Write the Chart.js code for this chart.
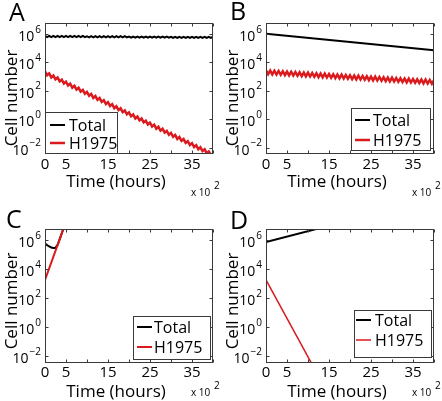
<!DOCTYPE html>
<html>
<head>
<meta charset="utf-8">
<script src="https://cdn.jsdelivr.net/npm/chart.js@4.4.0/dist/chart.umd.min.js"></script>
<style>
    html, body { margin: 0; padding: 0; background: #fff; }
    #wrap { position: relative; width: 442px; height: 401px; }
    canvas { position: absolute; }
</style>
</head>
<body>
<div id="wrap">
    <canvas id="chartA" width="221" height="200" style="left:0;top:0"></canvas>
    <canvas id="chartB" width="221" height="200" style="left:221px;top:0"></canvas>
    <canvas id="chartC" width="221" height="201" style="left:0;top:200px"></canvas>
    <canvas id="chartD" width="221" height="201" style="left:221px;top:200px"></canvas>
</div>
<script>
// time in units of 10^2 hours
const timeGrid = [
    0, 0.5, 1, 1.5, 2, 2.5, 3, 3.5, 4, 4.5,
    5, 5.5, 6, 6.5, 7, 7.5, 8, 8.5, 9, 9.5,
    10, 10.5, 11, 11.5, 12, 12.5, 13, 13.5, 14, 14.5,
    15, 15.5, 16, 16.5, 17, 17.5, 18, 18.5, 19, 19.5,
    20, 20.5, 21, 21.5, 22, 22.5, 23, 23.5, 24, 24.5,
    25, 25.5, 26, 26.5, 27, 27.5, 28, 28.5, 29, 29.5,
    30, 30.5, 31, 31.5, 32, 32.5, 33, 33.5, 34, 34.5,
    35, 35.5, 36, 36.5, 37, 37.5, 38, 38.5, 39, 39.5,
    40
];

// cell numbers, stored as log10 values
const aTotal = [
    5.84, 5.76, 5.84, 5.76, 5.84, 5.76, 5.84, 5.76, 5.84, 5.76,
    5.84, 5.76, 5.84, 5.76, 5.84, 5.76, 5.84, 5.76, 5.84, 5.76,
    5.82, 5.74, 5.82, 5.74, 5.82, 5.74, 5.82, 5.74, 5.82, 5.74,
    5.82, 5.74, 5.82, 5.74, 5.82, 5.74, 5.82, 5.74, 5.82, 5.74,
    5.80, 5.72, 5.80, 5.72, 5.80, 5.72, 5.80, 5.72, 5.80, 5.72,
    5.80, 5.72, 5.80, 5.72, 5.80, 5.72, 5.80, 5.72, 5.80, 5.72,
    5.78, 5.70, 5.78, 5.70, 5.78, 5.70, 5.78, 5.70, 5.78, 5.70,
    5.78, 5.70, 5.78, 5.70, 5.78, 5.70, 5.78, 5.70, 5.78, 5.70,
    5.78
];
const aH1975 = [
    3.35, 3.08, 3.21, 2.93, 3.06, 2.79, 2.92, 2.65, 2.77, 2.50,
    2.63, 2.36, 2.49, 2.21, 2.34, 2.07, 2.20, 1.93, 2.05, 1.78,
    1.91, 1.64, 1.77, 1.49, 1.62, 1.35, 1.48, 1.21, 1.33, 1.06,
    1.19, 0.92, 1.05, 0.77, 0.90, 0.63, 0.76, 0.49, 0.61, 0.34,
    0.47, 0.20, 0.33, 0.05, 0.18, -0.09, 0.04, -0.23, -0.11, -0.38,
    -0.25, -0.52, -0.39, -0.67, -0.54, -0.81, -0.68, -0.95, -0.83, -1.10,
    -0.97, -1.24, -1.11, -1.39, -1.26, -1.53, -1.40, -1.67, -1.55, -1.82,
    -1.69, -1.96, -1.83, -2.11, -1.98, -2.25, -2.12, -2.39, -2.27, -2.54,
    -2.41
];
const bTotalTime = [0, 40];
const bTotal = [6.0, 4.83];
const bH1975 = [
    3.43, 3.16, 3.41, 3.14, 3.40, 3.13, 3.38, 3.11, 3.36, 3.09,
    3.34, 3.07, 3.33, 3.06, 3.31, 3.04, 3.29, 3.02, 3.27, 3.00,
    3.26, 2.99, 3.24, 2.97, 3.22, 2.95, 3.20, 2.93, 3.19, 2.92,
    3.17, 2.90, 3.15, 2.88, 3.13, 2.86, 3.12, 2.85, 3.10, 2.83,
    3.08, 2.81, 3.06, 2.79, 3.05, 2.78, 3.03, 2.76, 3.01, 2.74,
    2.99, 2.72, 2.98, 2.71, 2.96, 2.69, 2.94, 2.67, 2.92, 2.65,
    2.91, 2.64, 2.89, 2.62, 2.87, 2.60, 2.85, 2.58, 2.84, 2.57,
    2.82, 2.55, 2.80, 2.53, 2.78, 2.51, 2.77, 2.50, 2.75, 2.48,
    2.73
];
const cTotalTime = [0, 0.5, 1, 1.5, 2, 2.5, 3, 3.5, 4, 5];
const cTotal = [5.75, 5.64, 5.55, 5.48, 5.44, 5.45, 5.66, 6.06, 6.46, 7.26];
const cH1975Time = [0, 5];
const cH1975 = [3.25, 7.25];
const dTotalTime = [0, 40];
const dTotal = [5.85, 8.85];
const dH1975Time = [0, 15];
const dH1975 = [3.25, -4.67];

const xTicks = [0, 5, 10, 15, 20, 25, 30, 35, 40];
const xTickLabels = ['0', '5', '', '15', '', '25', '', '35', ''];
const yTickExps = [-2, 0, 2, 4, 6];
const yMinExp = -2.45;
const yMaxExp = 6.75;

const BLACK = '#000000';
const RED = '#da1a1c';
const FONT = '"Open Sans", "DejaVu Sans", sans-serif';

function toPoints(times, logs) {
    return times.map((t, i) => ({ x: t, y: Math.pow(10, logs[i]) }));
}

// MATLAB style box, inward ticks, labels and legend
const matlabAxes = {
    id: 'matlabAxes',
    afterDraw(chart, args, opts) {
        const ctx = chart.ctx;
        const a = chart.chartArea;
        const xs = chart.scales.x;
        const ys = chart.scales.y;
        const L = Math.round(a.left) + 0.5, R = Math.round(a.right) - 0.5;
        const T = Math.round(a.top) + 0.5, B = Math.round(a.bottom) - 0.5;
        ctx.save();

        ctx.strokeStyle = '#3a3a3a';
        ctx.lineWidth = 1;
        ctx.strokeRect(L, T, R - L, B - T);
        ctx.beginPath();
        xTicks.forEach(v => {
            const px = Math.round(xs.getPixelForValue(v)) + 0.5;
            ctx.moveTo(px, B); ctx.lineTo(px, B - 3);
            ctx.moveTo(px, T); ctx.lineTo(px, T + 3);
        });
        yTickExps.forEach(e => {
            const py = Math.round(ys.getPixelForValue(Math.pow(10, e))) + 0.5;
            ctx.moveTo(L, py); ctx.lineTo(L + 3, py);
            ctx.moveTo(R, py); ctx.lineTo(R - 3, py);
        });
        ctx.stroke();

        ctx.fillStyle = '#000';
        // x tick labels
        ctx.font = '15px ' + FONT;
        ctx.textAlign = 'center';
        ctx.textBaseline = 'middle';
        xTicks.forEach((v, i) => {
            if (xTickLabels[i]) ctx.fillText(xTickLabels[i], xs.getPixelForValue(v), opts.xLabelY);
        });

        // y tick labels 10^n
        yTickExps.forEach(e => {
            const py = ys.getPixelForValue(Math.pow(10, e));
            const exp = e < 0 ? '\u2212' + (-e) : String(e);
            ctx.font = '10px ' + FONT;
            ctx.textAlign = 'right';
            const expRight = a.left - 4;
            const expW = ctx.measureText(exp).width;
            ctx.fillText(exp, expRight, py - 4);
            ctx.font = '14px ' + FONT;
            ctx.fillText('10', expRight - expW - 1, py + 3);
        });

        // axis titles
        ctx.font = '17px ' + FONT;
        ctx.textAlign = 'center';
        ctx.fillText('Time (hours)', 116, opts.xTitleY);
        ctx.save();
        ctx.translate(17, opts.yTitleY);
        ctx.rotate(-Math.PI / 2);
        ctx.textBaseline = 'alphabetic';
        ctx.fillText('Cell number', 0, 0);
        ctx.restore();

        // x 10^2 multiplier
        ctx.font = '10px ' + FONT;
        ctx.textAlign = 'left';
        ctx.fillText('x 10', 191, 193);
        ctx.fillText('2', 214, 186);

        // panel letter
        ctx.font = '25px ' + FONT;
        ctx.textBaseline = 'alphabetic';
        ctx.fillText(opts.letter, opts.letterX, opts.letterY);

        // legend
        const lg = opts.legend;
        ctx.fillStyle = '#fff';
        ctx.fillRect(lg.x0, lg.y0, lg.x1 - lg.x0, lg.y1 - lg.y0);
        ctx.strokeStyle = '#3a3a3a';
        ctx.strokeRect(lg.x0 + 0.5, lg.y0 + 0.5, lg.x1 - lg.x0 - 1, lg.y1 - lg.y0 - 1);
        const items = [['Total', BLACK, lg.row1, 2], ['H1975', RED, lg.row2, opts.redWidth]];
        ctx.textBaseline = 'middle';
        ctx.font = '16px ' + FONT;
        items.forEach(([label, color, y, w]) => {
            ctx.strokeStyle = color;
            ctx.lineWidth = w;
            ctx.beginPath();
            ctx.moveTo(lg.lineX0, y); ctx.lineTo(lg.lineX1, y);
            ctx.stroke();
            ctx.fillStyle = '#000';
            ctx.fillText(label, lg.textX, y + 1);
        });
        ctx.restore();
    }
};

function makePanel(id, cfg) {
    const ctx = document.getElementById(id).getContext('2d');
    cfg.axes.redWidth = cfg.redWidth;
    return new Chart(ctx, {
        type: 'line',
        data: {
            datasets: [
                {
                    label: 'H1975',
                    data: cfg.h1975,
                    borderColor: RED,
                    borderWidth: cfg.redWidth,
                    pointRadius: 0,
                    tension: 0
                },
                {
                    label: 'Total',
                    data: cfg.total,
                    borderColor: BLACK,
                    borderWidth: 2,
                    pointRadius: 0,
                    tension: 0
                }
            ]
        },
        options: {
            responsive: false,
            animation: false,
            events: [],
            layout: { padding: cfg.padding },
            scales: {
                x: { type: 'linear', min: 0, max: 40, display: false },
                y: { type: 'logarithmic', min: Math.pow(10, yMinExp), max: Math.pow(10, yMaxExp), display: false }
            },
            plugins: {
                legend: { display: false },
                tooltip: { enabled: false },
                matlabAxes: cfg.axes
            }
        },
        plugins: [matlabAxes]
    });
}

const topPad = { left: 45, top: 23, right: 8, bottom: 46 };
const botPad = { left: 45, top: 29, right: 8, bottom: 38 };

makePanel('chartA', {
    total: toPoints(timeGrid, aTotal),
    h1975: toPoints(timeGrid, aH1975),
    redWidth: 2.5,
    padding: topPad,
    axes: {
        letter: 'A', letterX: 9, letterY: 21, xLabelY: 165, xTitleY: 182, yTitleY: 98,
        legend: { x0: 45, y0: 112, x1: 118, y1: 154, row1: 125, row2: 143, lineX0: 50, lineX1: 65, textX: 69 }
    }
});
makePanel('chartB', {
    total: toPoints(bTotalTime, bTotal),
    h1975: toPoints(timeGrid, bH1975),
    redWidth: 2.5,
    padding: topPad,
    axes: {
        letter: 'B', letterX: 9, letterY: 20, xLabelY: 165, xTitleY: 182, yTitleY: 98,
        legend: { x0: 130, y0: 108, x1: 210, y1: 151, row1: 120, row2: 140, lineX0: 134, lineX1: 149, textX: 152 }
    }
});
makePanel('chartC', {
    total: toPoints(cTotalTime, cTotal),
    h1975: toPoints(cH1975Time, cH1975),
    redWidth: 2,
    padding: botPad,
    axes: {
        letter: 'C', letterX: 6, letterY: 28, xLabelY: 173, xTitleY: 192, yTitleY: 101,
        legend: { x0: 133, y0: 116, x1: 211, y1: 160, row1: 127, row2: 147, lineX0: 137, lineX1: 152, textX: 154 }
    }
});
makePanel('chartD', {
    total: toPoints(dTotalTime, dTotal),
    h1975: toPoints(dH1975Time, dH1975),
    redWidth: 1.5,
    padding: botPad,
    axes: {
        letter: 'D', letterX: 9, letterY: 29, xLabelY: 173, xTitleY: 192, yTitleY: 101,
        legend: { x0: 133, y0: 110, x1: 211, y1: 158, row1: 120, row2: 140, lineX0: 135, lineX1: 150, textX: 154 }
    }
});
</script>
</body>
</html>
